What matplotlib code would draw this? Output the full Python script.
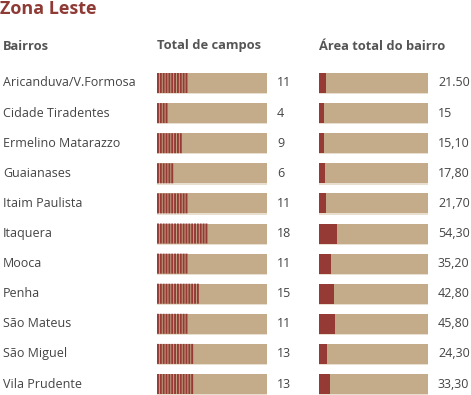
import matplotlib
matplotlib.use("Agg")
import matplotlib.pyplot as plt
import matplotlib.transforms as mtransforms

plt.rcParams['font.family'] = ['Open Sans', 'DejaVu Sans']

# Data
bairros = ["Aricanduva/V.Formosa", "Cidade Tiradentes", "Ermelino Matarazzo",
           "Guaianases", "Itaim Paulista", "Itaquera", "Mooca", "Penha",
           "São Mateus", "São Miguel", "Vila Prudente"]
campos = [11, 4, 9, 6, 11, 18, 11, 15, 11, 13, 13]
area = [21.5, 15, 15.1, 17.8, 21.7, 54.3, 35.2, 42.8, 45.8, 24.3, 33.3]
area_labels = ["21.50", "15", "15,10", "17,80", "21,70", "54,30",
               "35,20", "42,80", "45,80", "24,30", "33,30"]

CAMPOS_MAX = 110 / 2.85
AREA_MAX = 320

RED = "#953a35"
TAN = "#c4ab8a"
PALE = "#e9dfd0"
TXT = "#444444"
HEAD = "#555555"

W, H = 471, 395
fig = plt.figure(figsize=(W / 100, H / 100), dpi=100)
fig.patch.set_facecolor("white")

n = len(bairros)
ys = list(range(n))
row_px = 30.1
top_px = 83 - row_px / 2
ax_h = row_px * n


def make_ax(left_px, width_px):
    ax = fig.add_axes([left_px / W, (H - top_px - ax_h) / H, width_px / W, ax_h / H])
    ax.set_ylim(n - 0.5, -0.5)
    ax.axis("off")
    return ax


bh = 20 / row_px

# Total de campos: one stripe per field
ax_c = make_ax(157, 110)
ax_c.set_xlim(0, CAMPOS_MAX)
ax_c.barh(ys, [CAMPOS_MAX] * n, height=bh, color=TAN)
ax_c.barh([y + bh / 2 + 0.02 for y in ys], [CAMPOS_MAX] * n, height=0.04, color=PALE)
for y, c in zip(ys, campos):
    ax_c.barh([y] * c, [0.68] * c, left=list(range(c)), height=bh, color=RED,
              snap=False, antialiased=True)

# Área total do bairro
ax_a = make_ax(319, 109)
ax_a.set_xlim(0, AREA_MAX)
ax_a.barh(ys, [AREA_MAX] * n, height=bh, color=TAN)
ax_a.barh([y + bh / 2 + 0.02 for y in ys], [AREA_MAX] * n, height=0.04, color=PALE)
ax_a.barh(ys, area, height=bh, color=RED)

# Text
tr = mtransforms.blended_transform_factory(fig.transFigure, ax_c.transData)
for y, name, c, al in zip(ys, bairros, campos, area_labels):
    ax_c.text(3 / W, y, name, transform=tr, fontsize=9, color=TXT, va="center", ha="left")
    ax_c.text(277 / W, y, str(c), transform=tr, fontsize=9, color=TXT, va="center", ha="left")
    ax_c.text(438 / W, y, al, transform=tr, fontsize=9, color=TXT, va="center", ha="left")

fig.text(0 / W, 1 - 9 / H, "Zona Leste", fontsize=13, fontweight="bold",
         color="#8e3a35", va="center", ha="left")
for x, s in [(3, "Bairros"), (157, "Total de campos"), (319, "Área total do bairro")]:
    fig.text(x / W, 1 - 46 / H, s, fontsize=9.3, fontweight="bold",
             color=HEAD, va="center", ha="left")

fig.savefig("out.png", dpi=100)
